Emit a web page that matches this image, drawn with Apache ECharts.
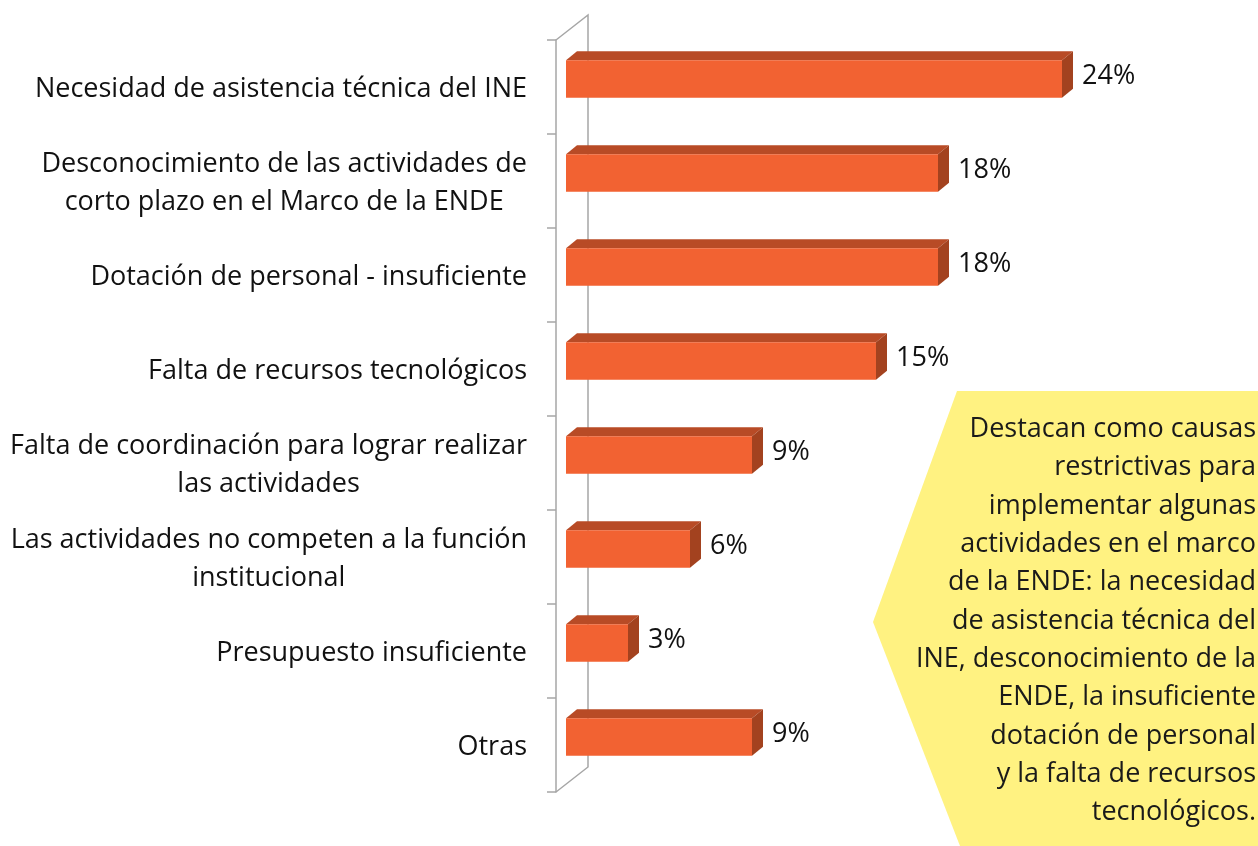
<!DOCTYPE html>
<html>
<head>
<meta charset="utf-8">
<script src="https://cdn.jsdelivr.net/npm/echarts@6/dist/echarts.min.js"></script>
<style>
  html, body { margin: 0; padding: 0; background: #fff; }
  #chart { width: 1258px; height: 846px; }
</style>
</head>
<body>
<div id="chart"></div>
<script>
// datos
var categories = [
  'Necesidad de asistencia técnica del INE',
  'Desconocimiento de las actividades de\ncorto plazo en el Marco de la ENDE',
  'Dotación de personal - insuficiente',
  'Falta de recursos tecnológicos',
  'Falta de coordinación para lograr realizar\nlas actividades',
  'Las actividades no competen a la función\ninstitucional',
  'Presupuesto insuficiente',
  'Otras'
];
var values = [24, 18, 18, 15, 9, 6, 3, 9];

var calloutText = [
  'Destacan como causas',
  'restrictivas para',
  'implementar algunas',
  'actividades en el marco',
  'de la ENDE: la necesidad',
  'de asistencia técnica del',
  'INE, desconocimiento de la',
  'ENDE, la insuficiente',
  'dotación de personal',
  'y la falta de recursos',
  'tecnológicos.'
];

var FONT = '"Open Sans"';
var FSIZE = 27;
var gridLeft = 566, gridTop = 40, gridBottom = 54, gridRight = 72;
var axisX = 556;            // linea del eje (offset 10)
var wallDx = 32, wallDy = 25; // profundidad de la pared
var barDx = 11, barDy = 9;    // profundidad de las barras

var dom = document.getElementById('chart');
var myChart = echarts.init(dom);

function renderBar(params, api) {
  var v = api.value(0);
  var cat = api.value(1);
  var start = api.coord([0, cat]);
  var end = api.coord([v, cat]);
  var band = api.size([0, 1])[1];
  var h = band * 0.4;
  var yc = start[1] - 8;
  var x0 = start[0], x1 = end[0];
  var y0 = yc - h / 2, y1 = yc + h / 2;
  return {
    type: 'group',
    children: [
      { type: 'polygon', shape: { points: [[x0, y0], [x0 + barDx, y0 - barDy], [x1 + barDx, y0 - barDy], [x1, y0]] },
        style: { fill: '#b84b26' } },
      { type: 'polygon', shape: { points: [[x1, y0], [x1 + barDx, y0 - barDy], [x1 + barDx, y1 - barDy], [x1, y1]] },
        style: { fill: '#a3421f' } },
      { type: 'rect', shape: { x: x0, y: y0, width: x1 - x0, height: h },
        style: { fill: '#f26232' } },
      { type: 'text', x: x1 + barDx + 9, y: yc - barDy / 2 + 2,
        style: { text: v + '%', fill: '#111', font: FSIZE + 'px ' + FONT, verticalAlign: 'middle', align: 'left' } }
    ]
  };
}

var option = {
  animation: false,
  grid: { left: gridLeft, top: gridTop, bottom: gridBottom, right: gridRight },
  xAxis: { type: 'value', min: 0, max: 30, show: false },
  yAxis: {
    type: 'category',
    data: categories,
    inverse: true,
    offset: 10,
    axisLine: { show: true, onZero: false, lineStyle: { color: '#a6a6a6', width: 1.5 } },
    axisTick: { show: true, inside: false, length: 9, lineStyle: { color: '#a6a6a6', width: 1.5 } },
    axisLabel: {
      margin: 29,
      lineHeight: 38,
      padding: [5, 0, 0, 0],
      formatter: function (val) {
        return val.split('\n').map(function (s) { return '{c|' + s + '}'; }).join('\n');
      },
      rich: { c: { align: 'center', fontFamily: FONT, fontSize: FSIZE, color: '#111', lineHeight: 38 } }
    },
    splitLine: { show: false }
  },
  series: [{
    type: 'custom',
    renderItem: renderBar,
    encode: { x: 0, y: 1 },
    data: values.map(function (v, i) { return [v, i]; }),
    z: 3
  }],
  graphic: []
};

myChart.setOption(option);

// pared trasera y callout
var h = myChart.getHeight();
var yTop = gridTop, yBot = h - gridBottom;
myChart.setOption({
  graphic: [
    { type: 'polyline', z: 1, silent: true,
      shape: { points: [[axisX, yTop], [axisX + wallDx, yTop - wallDy], [axisX + wallDx, yBot - wallDy], [axisX, yBot]] },
      style: { stroke: '#a6a6a6', lineWidth: 1.5, fill: null } },
    { type: 'polygon', z: 10, silent: true,
      shape: { points: [[957, 391], [1258, 391], [1258, 846], [960, 846], [873, 622]] },
      style: { fill: '#fff281' } },
    { type: 'text', z: 11, silent: true, x: 1256, y: 621,
      style: { text: calloutText.join('\n'), align: 'right', verticalAlign: 'middle',
        font: FSIZE + 'px ' + FONT, lineHeight: 38.3, fill: '#1a1a1a' } }
  ]
});
</script>
</body>
</html>
